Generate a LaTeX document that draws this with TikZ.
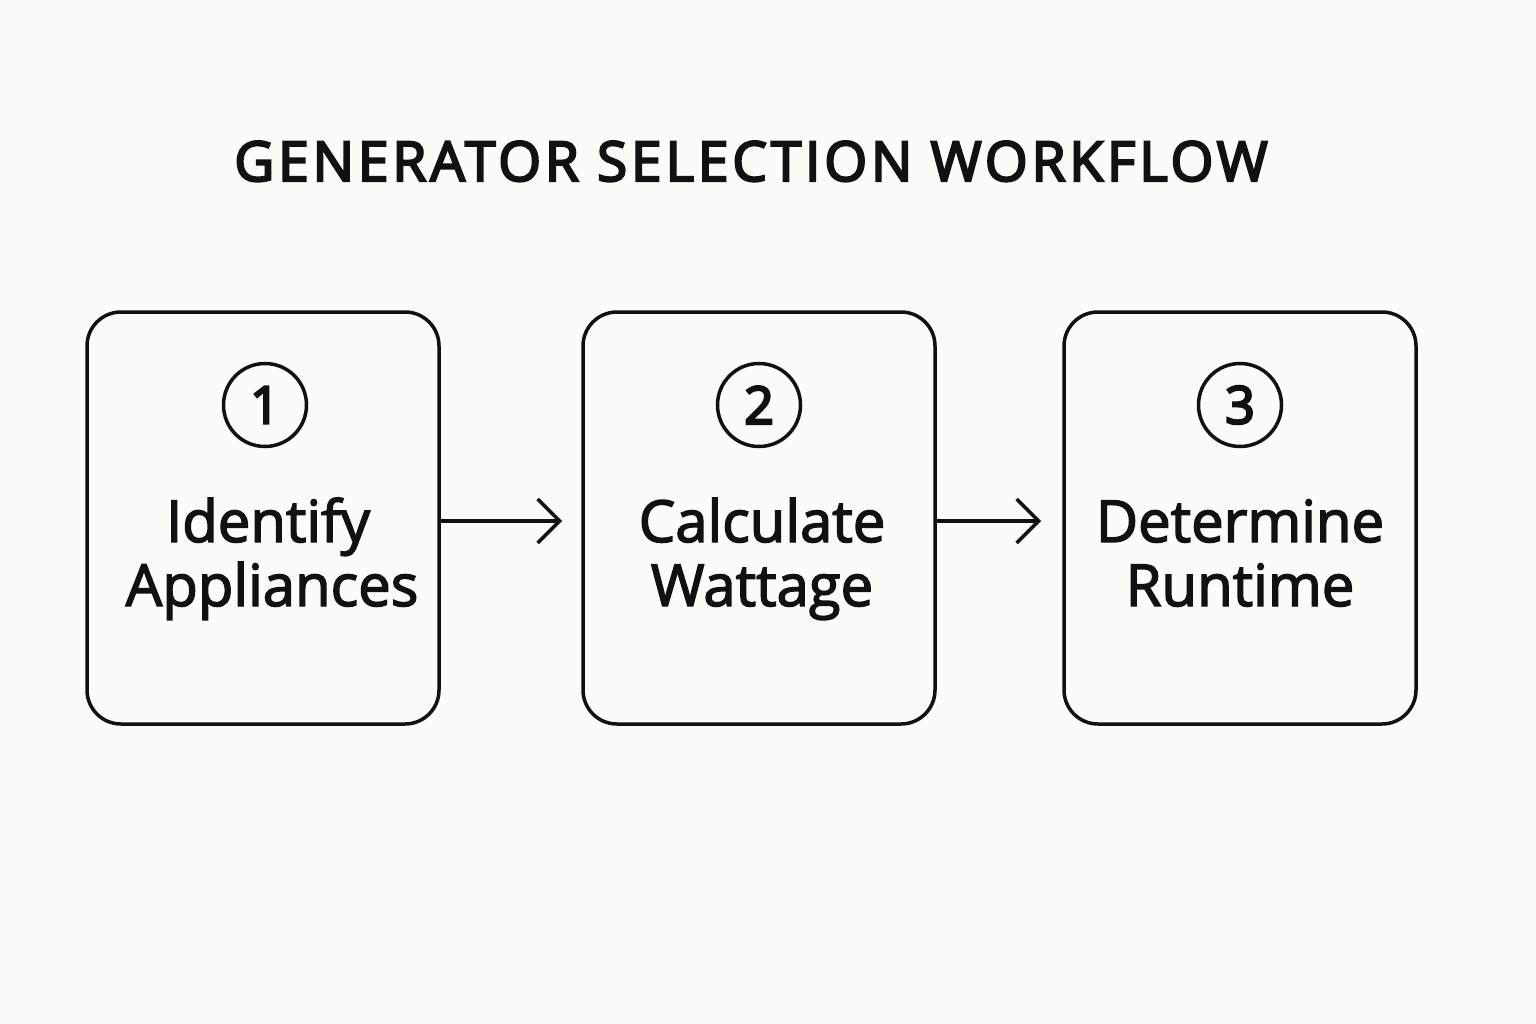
\documentclass[tikz,border=0pt]{standalone}
\usepackage{fontspec}
\setmainfont{Open Sans}
\newfontfamily\titlefont{Open Sans}[LetterSpace=7,FakeBold=4]
\newfontfamily\bodyfont{Open Sans}[FakeBold=2.5]
\newfontfamily\numfont{Open Sans}[FakeBold=4.5]
\usetikzlibrary{arrows.meta}
\definecolor{bg}{HTML}{FCFBF7}
\definecolor{ink}{HTML}{111111}
\begin{document}
\begin{tikzpicture}[x=1pt,y=-1pt,
  stepbox/.style={draw=ink,line width=3.5pt,rounded corners=34pt,minimum width=352pt,minimum height=412pt,inner sep=0pt},
  numcirc/.style={draw=ink,line width=3.5pt,circle,minimum size=83pt,inner sep=0pt,font=\fontsize{52}{52}\selectfont\numfont,text=ink},
  steptext/.style={anchor=base,font=\fontsize{58}{58}\selectfont\bodyfont,text=ink},
  flow/.style={draw=ink,line width=3.5pt,-{Straight Barb[length=22pt,width=44pt,line width=3.5pt]}}]
\fill[bg] (0,0) rectangle (1536,1024);
\useasboundingbox (0,0) rectangle (1536,1024);
\node[anchor=base,text=ink,font=\fontsize{55}{55}\selectfont\titlefont] (title) at (751,181) {GENERATOR SELECTION WORKFLOW};
\node[stepbox] (b1) at (263,518) {};
\node[stepbox] (b2) at (759,518) {};
\node[stepbox] (b3) at (1240,518) {};
\node[numcirc] (c1) at (265,405) {1};
\node[numcirc] (c2) at (759,405) {2};
\node[numcirc] (c3) at (1240,405) {3};
\node[steptext] (t1a) at (268,542) {Identify};
\node[steptext] (t1b) at (272,606) {Appliances};
\node[steptext] (t2a) at (762,542) {Calculate};
\node[steptext] (t2b) at (762,606) {Wattage};
\node[steptext] (t3a) at (1240,542) {Determine};
\node[steptext] (t3b) at (1240,606) {Runtime};
\coordinate (a1) at (562,521);
\coordinate (a2) at (1041,521);
\draw[flow] (b1.east |- a1) -- (a1);
\draw[flow] (b2.east |- a2) -- (a2);
\end{tikzpicture}
\end{document}
